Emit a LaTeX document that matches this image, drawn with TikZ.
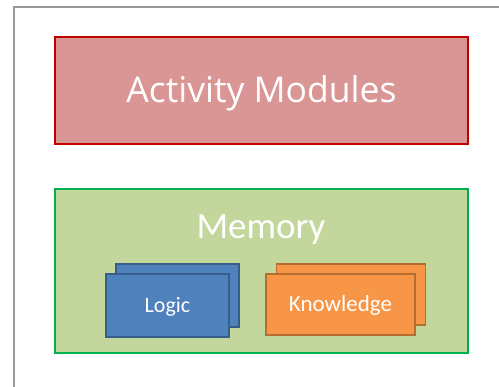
\documentclass[tikz,border=0pt]{standalone}
\usepackage{fontspec}
\setmainfont{Carlito}
\newfontfamily\titlefont{Open Sans}
\usepackage{pgf,tikz}
\definecolor{actfill}{HTML}{D99694}
\definecolor{actline}{HTML}{C00000}
\definecolor{memfill}{HTML}{C3D69B}
\definecolor{memline}{HTML}{00B050}
\definecolor{logfill}{HTML}{4F81BD}
\definecolor{logline}{HTML}{385D8A}
\definecolor{knofill}{HTML}{F79646}
\definecolor{knoline}{HTML}{B66D31}
\tikzstyle{marco} = [draw=black!40, line width=1.5pt]
\tikzstyle{modulo} = [draw=actline, fill=actfill, line width=1.5pt, rectangle, inner sep=0pt, minimum width=413pt, minimum height=107pt, text height=25pt, text depth=0pt, text=white, font=\titlefont\fontsize{35.5}{40}\selectfont]
\tikzstyle{memoria} = [draw=memline, fill=memfill, line width=1.5pt, rectangle, inner sep=0pt, minimum width=413pt, minimum height=164pt]
\tikzstyle{titulo} = [text=white, inner sep=0pt, anchor=base, font=\fontsize{37}{42}\selectfont]
\tikzstyle{hoja} = [line width=1.2pt, rectangle, inner sep=0pt, text height=15pt, text depth=0pt, text=white, font=\fontsize{22}{26}\selectfont]

\begin{document}
\begin{tikzpicture}[x=1pt,y=-1pt]
	\useasboundingbox (0,0) rectangle (499,387);
	\clip (0,0) rectangle (499,387);
	\draw[marco] (14,7) rectangle (520,400);
	\node[modulo](act) at (261.5,90.5) {Activity Modules};
	\node[memoria](mem) at (261.5,271) {};
	\node[titulo](memtitle) at (261,239) {Memory};
	% hojas de memoria
	\node[hoja, draw=logline, fill=logfill, minimum width=123pt, minimum height=63pt](logicback) at (177.5,295.5) {};
	\node[hoja, draw=logline, fill=logfill, minimum width=123pt, minimum height=63pt](logic) at (167.5,305.5) {Logic};
	\node[hoja, draw=knoline, fill=knofill, minimum width=149pt, minimum height=61pt](knowback) at (351,294.5) {};
	\node[hoja, draw=knoline, fill=knofill, minimum width=149pt, minimum height=61pt, font=\fontsize{23}{27}\selectfont](know) at (340.5,304.5) {Knowledge};
\end{tikzpicture}
\end{document}
